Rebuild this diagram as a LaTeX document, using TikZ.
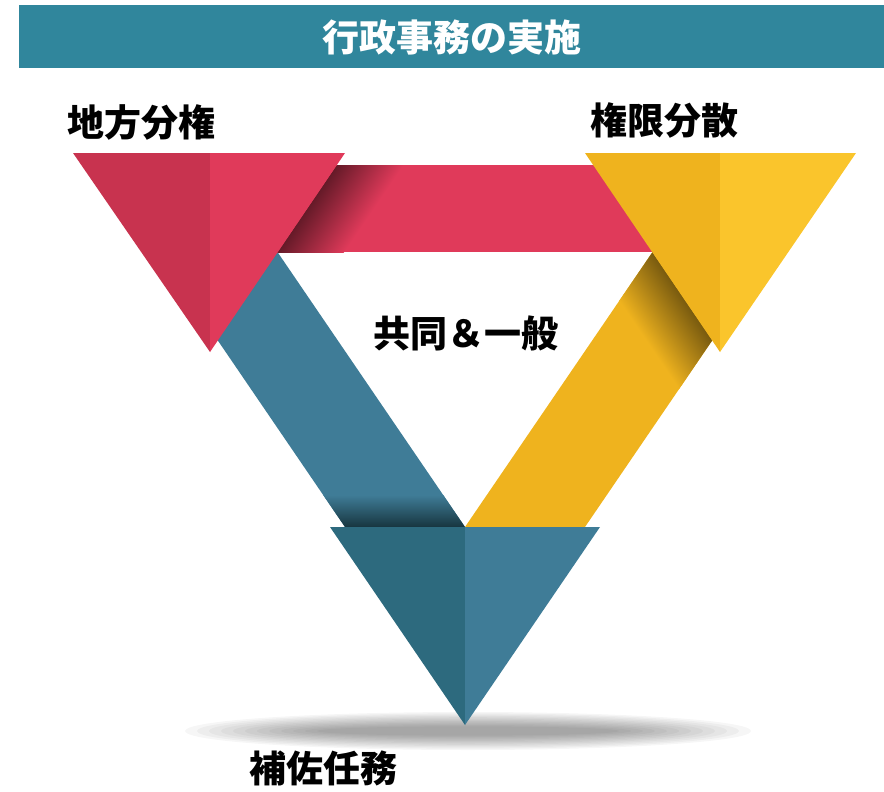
\documentclass[tikz,border=0pt]{standalone}
\usepackage{fontspec}
\usepackage[HTML]{xcolor}
\usepackage{tikz}
\newfontfamily\jpfont{Noto Sans CJK JP}

\definecolor{headteal}{HTML}{30869C}
\definecolor{redA}{HTML}{C8334F}
\definecolor{redB}{HTML}{E03A5A}
\definecolor{yelA}{HTML}{EFB31E}
\definecolor{yelB}{HTML}{FAC52C}
\definecolor{bluA}{HTML}{2D6A7E}
\definecolor{bluB}{HTML}{3F7C97}

\tikzset{
  cornertext/.style={font=\jpfont\bfseries\fontsize{37}{44}\selectfont, text=black, inner sep=0pt},
  headtext/.style={font=\jpfont\bfseries\fontsize{37}{44}\selectfont, text=white, inner sep=0pt},
}

\begin{document}
\begin{tikzpicture}[x=1pt, y=1pt]
\useasboundingbox (0,0) rectangle (884,-792);

% --- Header bar ---
\fill[headteal] (19,-5) rectangle (884,-68);
\node[headtext] (title) at (452,-37) {行政事務の実施};

% --- Bands ---
\fill[bluB] (345,-527) -- (465,-527) -- (242,-200) -- (122,-200) -- cycle;
\fill[yelA] (465,-527) -- (585,-527) -- (808,-200) -- (688,-200) -- cycle;
\fill[redB] (250,-165) rectangle (690,-252);

% Shadow where the red band leaves the red triangle
\begin{scope}
\clip (250,-165) rectangle (690,-252);
\shade[transform canvas={shift={(345,-153)}, rotate=-124.2},
       top color=redB, bottom color=redB!45!black] (-200,0) rectangle (320,55);
\end{scope}
% Shadow where the yellow band leaves the yellow triangle
\begin{scope}
\clip (465,-527) -- (585,-527) -- (808,-200) -- (688,-200) -- cycle;
\shade[transform canvas={shift={(585,-153)}, rotate=-55.8},
       top color=yelA!50!black, bottom color=yelA] (-200,0) rectangle (320,-55);
\end{scope}
% Shadow where the blue band goes under the bottom triangle
\begin{scope}
\clip (345,-527) -- (465,-527) -- (242,-200) -- (122,-200) -- cycle;
\shade[top color=bluB, bottom color=bluA!50!black] (100,-495) rectangle (500,-527);
\end{scope}

% --- Ground shadow ---
\foreach \i in {0,...,11}
  \fill[black, opacity=0.035] (468,-731) ellipse ({283-12*\i} and {19-1.3*\i});

% --- Triangles ---
\fill[redA] (73,-153) -- (210,-153) -- (210,-352) -- cycle;
\fill[redB] (210,-153) -- (345,-153) -- (210,-352) -- cycle;
\fill[yelA] (585,-153) -- (720,-153) -- (720,-352) -- cycle;
\fill[yelB] (720,-153) -- (856,-153) -- (720,-352) -- cycle;
\fill[bluA] (330,-527) -- (465,-527) -- (465,-725) -- cycle;
\fill[bluB] (465,-527) -- (600,-527) -- (465,-725) -- cycle;

% --- Labels ---
\node[cornertext] (local) at (141,-122) {地方分権};
\node[cornertext] (spread) at (664,-120) {権限分散};
\node[cornertext] (assist) at (323,-768) {補佐任務};
\node[cornertext] (common) at (466,-333) {共同＆一般};
\end{tikzpicture}
\end{document}
